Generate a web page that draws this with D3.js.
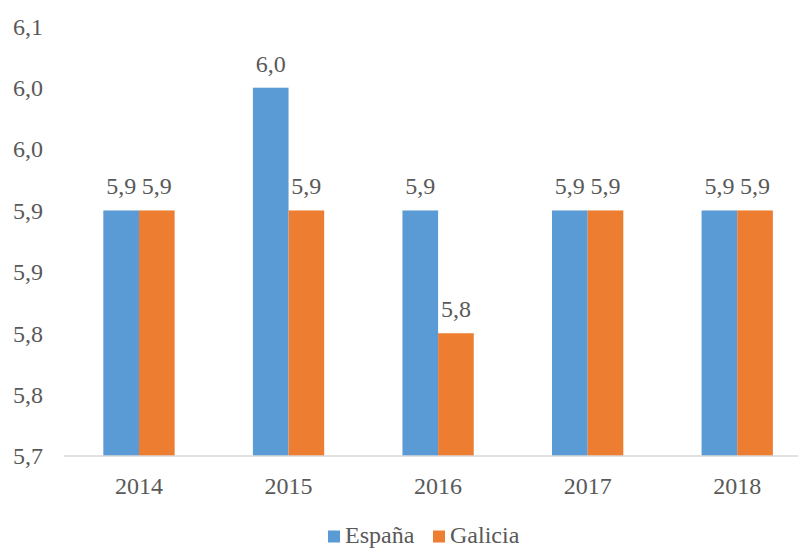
<!DOCTYPE html>
<html>
<head>
<meta charset="utf-8">
<script src="https://cdn.jsdelivr.net/npm/d3@7"></script>
<style>
  html, body { margin: 0; padding: 0; background: #fff; }
  svg { display: block; }
</style>
</head>
<body>
<svg id="chart" width="798" height="548" font-family="'Liberation Serif', 'Times New Roman', Times, serif" fill="#595959"></svg>
<script>
// Years on the category axis
const years = ["2014", "2015", "2016", "2017", "2018"];
// Series
const seriesNames = ["España", "Galicia"];
const espana = [5.9, 6.0, 5.9, 5.9, 5.9];
const galicia = [5.9, 5.9, 5.8, 5.9, 5.9];
const seriesColors = ["#5B9BD5", "#ED7D31"];
// Value axis ticks
const yTicks = [5.70, 5.75, 5.80, 5.85, 5.90, 5.95, 6.00, 6.05];

const svg = d3.select("#chart");
const fmt = v => d3.format(".1f")(v).replace(".", ",");
const FONT = 24;

const x = d3.scaleBand().domain(years).range([64.2, 812]).paddingInner(0).paddingOuter(0);
const xSub = d3.scaleBand().domain(seriesNames).range([0, 71.3]);
const y = d3.scaleLinear().domain([5.70, 6.00]).range([456, 87.7]);

const series = [espana, galicia];

// Bars with value labels
seriesNames.forEach((name, si) => {
  const g = svg.append("g");
  const rows = series[si].map((v, i) => ({ year: years[i], v }));
  const left = d => x(d.year) + (x.bandwidth() - 71.3) / 2 + xSub(name);
  g.selectAll("rect")
    .data(rows)
    .join("rect")
    .attr("x", left)
    .attr("width", xSub.bandwidth())
    .attr("y", d => y(d.v))
    .attr("height", d => y(5.70) - y(d.v))
    .attr("fill", seriesColors[si]);
  g.selectAll("text")
    .data(rows)
    .join("text")
    .attr("x", d => left(d) + xSub.bandwidth() / 2)
    .attr("y", d => y(d.v) - 16)
    .attr("text-anchor", "middle")
    .attr("font-size", FONT)
    .text(d => fmt(d.v));
});

// Category axis line
svg.append("line")
  .attr("x1", 64).attr("x2", 798)
  .attr("y1", y(5.70)).attr("y2", y(5.70))
  .attr("stroke", "#D9D9D9").attr("stroke-width", 1.5);

// Category labels
svg.append("g").selectAll("text")
  .data(years)
  .join("text")
  .attr("x", d => x(d) + x.bandwidth() / 2)
  .attr("y", 494)
  .attr("text-anchor", "middle")
  .attr("font-size", FONT)
  .text(d => d);

// Value axis labels
svg.append("g").selectAll("text")
  .data(yTicks)
  .join("text")
  .attr("x", 43)
  .attr("y", d => y(d))
  .attr("dy", "0.35em")
  .attr("text-anchor", "end")
  .attr("font-size", FONT)
  .text(d => fmt(d + 1e-9));

// Legend
const legend = svg.append("g");
const legendX = [328, 433];
seriesNames.forEach((name, i) => {
  legend.append("rect")
    .attr("x", legendX[i]).attr("y", 530.5)
    .attr("width", 12).attr("height", 12)
    .attr("fill", seriesColors[i]);
  legend.append("text")
    .attr("x", legendX[i] + 17).attr("y", 543)
    .attr("font-size", FONT)
    .text(name);
});
</script>
</body>
</html>
